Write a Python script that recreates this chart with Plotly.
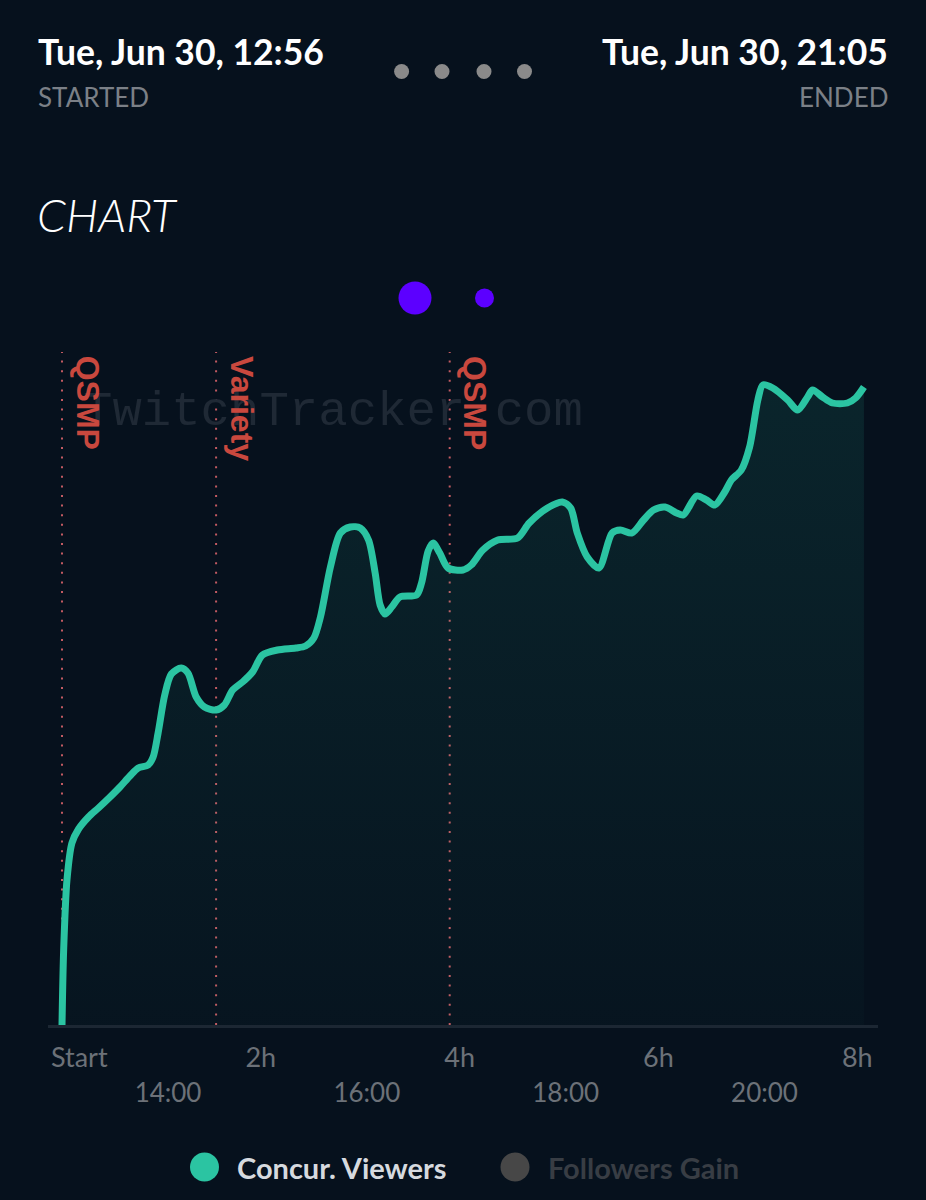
import plotly.graph_objects as go

# ---- data ----
minutes = [0, 1, 3, 6, 10, 16, 22, 29, 35, 41, 46, 52, 55, 58, 62, 66, 72, 76, 81, 86,
           93, 98, 103, 109, 115, 121, 130, 141, 147, 152, 156, 162, 168, 174, 180, 185,
           189, 192, 195, 199, 204, 214, 217, 221, 224, 228, 233, 242, 247, 254, 263, 275,
           282, 293, 302, 307, 311, 317, 324, 332, 337, 344, 351, 357, 364, 371, 375, 383,
           389, 394, 400, 404, 410, 415, 420, 423, 429, 438, 444, 450, 453, 459, 465, 474,
           479, 484]
viewers = [0, 3750, 7250, 9100, 9800, 10400, 10850, 11400, 11900, 12450, 12850, 13000,
           13400, 14600, 16500, 17550, 17850, 17600, 16400, 15900, 15750, 16000, 16750,
           17150, 17650, 18500, 18750, 18850, 18950, 19350, 20400, 22900, 24600, 24900,
           24850, 24250, 22600, 21000, 20550, 20900, 21400, 21500, 22100, 23700, 24100,
           23600, 22850, 22750, 23000, 23750, 24250, 24350, 25100, 25850, 26150, 25850,
           24600, 23400, 22850, 24600, 24750, 24600, 25250, 25750, 25900, 25600, 25500,
           26450, 26250, 26000, 26650, 27250, 27750, 28900, 31250, 32000, 31850, 31250,
           30750, 31400, 31750, 31400, 31100, 31100, 31350, 31900]

event_minutes = [0, 93, 234]
event_labels = ["QSMP", "Variety", "QSMP"]

elapsed_ticks = [0, 120, 240, 360, 480]
elapsed_labels = ["\u00a0" * 5 + "Start", "2h", "4h", "6h", "8h"]
clock_ticks = [64, 184, 304, 424]
clock_labels = ["14:00", "16:00", "18:00", "20:00"]

started_text = "Tue, Jun 30, 12:56"
ended_text = "Tue, Jun 30, 21:05"
series_names = ["Concur. Viewers", "Followers Gain"]

# ---- style ----
W, H = 926, 1200
ML, MR, MT, MB = 48, 48, 340, 140
BG = "#06111d"
TEAL = "#2bc4a2"
XR = [-8.45, 492.5]
YR = [0, 34250]


def px(x):
    return (x - ML) / (W - ML - MR)


def py(y):
    return (H - MB - y) / (H - MT - MB)


fig = go.Figure()
fig.add_trace(go.Scatter(
    x=minutes, y=viewers, mode="lines", name=series_names[0],
    line=dict(color=TEAL, width=7, shape="spline", smoothing=0.8),
    fill="tozeroy",
    fillgradient=dict(type="vertical",
                      colorscale=[[0, "rgba(43,196,162,0.02)"], [1, "rgba(43,196,162,0.11)"]]),
    showlegend=False, hoverinfo="skip",
))
# invisible trace so the clock-time axis is drawn
fig.add_trace(go.Scatter(x=minutes[:1], y=viewers[:1], xaxis="x2", mode="markers",
                         marker=dict(opacity=0), showlegend=False, hoverinfo="skip"))

shapes = []
annotations = []

# watermark
annotations.append(dict(text="TwitchTracker.com", xref="paper", yref="paper",
                        x=px(333), y=py(382), showarrow=False,
                        font=dict(family="Liberation Mono", size=49, color="#1f2935")))

for m, lab in zip(event_minutes, event_labels):
    shapes.append(dict(type="line", xref="x", yref="y domain", x0=m, x1=m, y0=0, y1=0.9825,
                       layer="below", line=dict(color="#c25a62", width=2, dash="2px,7.6px")))
    annotations.append(dict(text=lab, xref="x", yref="y domain", x=m, y=0.98,
                            xanchor="left", yanchor="top", xshift=6, textangle=90,
                            showarrow=False,
                            font=dict(family="Liberation Sans", size=32, color="#c9483e",
                                      weight="bold")))

# header
annotations += [
    dict(text=started_text, xref="paper", yref="paper", x=px(36), y=py(51),
         xanchor="left", yanchor="middle", showarrow=False,
         font=dict(family="Lato", size=35.5, color="#ffffff", weight="bold")),
    dict(text="STARTED", xref="paper", yref="paper", x=px(36), y=py(97),
         xanchor="left", yanchor="middle", showarrow=False,
         font=dict(family="Lato", size=26, color="#7b8087")),
    dict(text=ended_text, xref="paper", yref="paper", x=px(890), y=py(51),
         xanchor="right", yanchor="middle", showarrow=False,
         font=dict(family="Lato", size=35.5, color="#ffffff", weight="bold")),
    dict(text="ENDED", xref="paper", yref="paper", x=px(890), y=py(97),
         xanchor="right", yanchor="middle", showarrow=False,
         font=dict(family="Lato", size=26, color="#7b8087")),
    dict(text="<i>CHART</i>", xref="paper", yref="paper", x=px(35), y=py(215),
         xanchor="left", yanchor="middle", showarrow=False,
         font=dict(family="Lato", size=46, color="#ffffff", weight=300)),
]


def dot(cx, cy, r, color):
    return dict(type="circle", xref="paper", yref="paper", xsizemode="pixel",
                ysizemode="pixel", xanchor=px(cx), yanchor=py(cy),
                x0=-r, x1=r, y0=-r, y1=r, fillcolor=color, line=dict(width=0))


for cx in [401.6, 442, 484, 524.5]:
    shapes.append(dot(cx, 71.5, 7.5, "#8a8a8a"))
shapes.append(dot(415, 298, 16.5, "#5c00ff"))
shapes.append(dot(484.5, 298, 9.5, "#5c00ff"))

# legend
shapes.append(dot(204.5, 1167, 14.5, TEAL))
shapes.append(dot(515, 1167, 14.5, "#474747"))
annotations.append(dict(text=series_names[0], xref="paper", yref="paper", x=px(235), y=py(1167),
                        xanchor="left", yanchor="middle", showarrow=False,
                        font=dict(family="Lato", size=29, color="#d6dadf", weight="bold")))
annotations.append(dict(text=series_names[1], xref="paper", yref="paper", x=px(546), y=py(1167),
                        xanchor="left", yanchor="middle", showarrow=False,
                        font=dict(family="Lato", size=29, color="#383d44", weight="bold")))

fig.update_layout(
    width=W, height=H,
    margin=dict(l=ML, r=MR, t=MT, b=MB),
    paper_bgcolor=BG, plot_bgcolor=BG,
    showlegend=False,
    shapes=shapes, annotations=annotations,
    xaxis=dict(range=XR, tickvals=elapsed_ticks, ticktext=elapsed_labels,
               showgrid=False, zeroline=False, ticks="", showline=True,
               linecolor="#1c2733", linewidth=3, anchor="y", ticklabelstandoff=7,
               tickfont=dict(family="Lato", size=27, color="#6c7178")),
    xaxis2=dict(range=XR, overlaying="x", anchor="free", position=0, side="bottom",
                tickvals=clock_ticks, ticktext=clock_labels, ticklabelstandoff=15,
                showgrid=False, zeroline=False, ticks="", showline=False,
                tickfont=dict(family="Lato", size=26, color="#6c7178")),
    yaxis=dict(range=YR, domain=[35 / (H - MT - MB), 1], visible=False,
               showgrid=False, zeroline=False),
)

fig.write_html("out.html", config={"displayModeBar": False},
               post_script="document.body.style.margin='0px';")
